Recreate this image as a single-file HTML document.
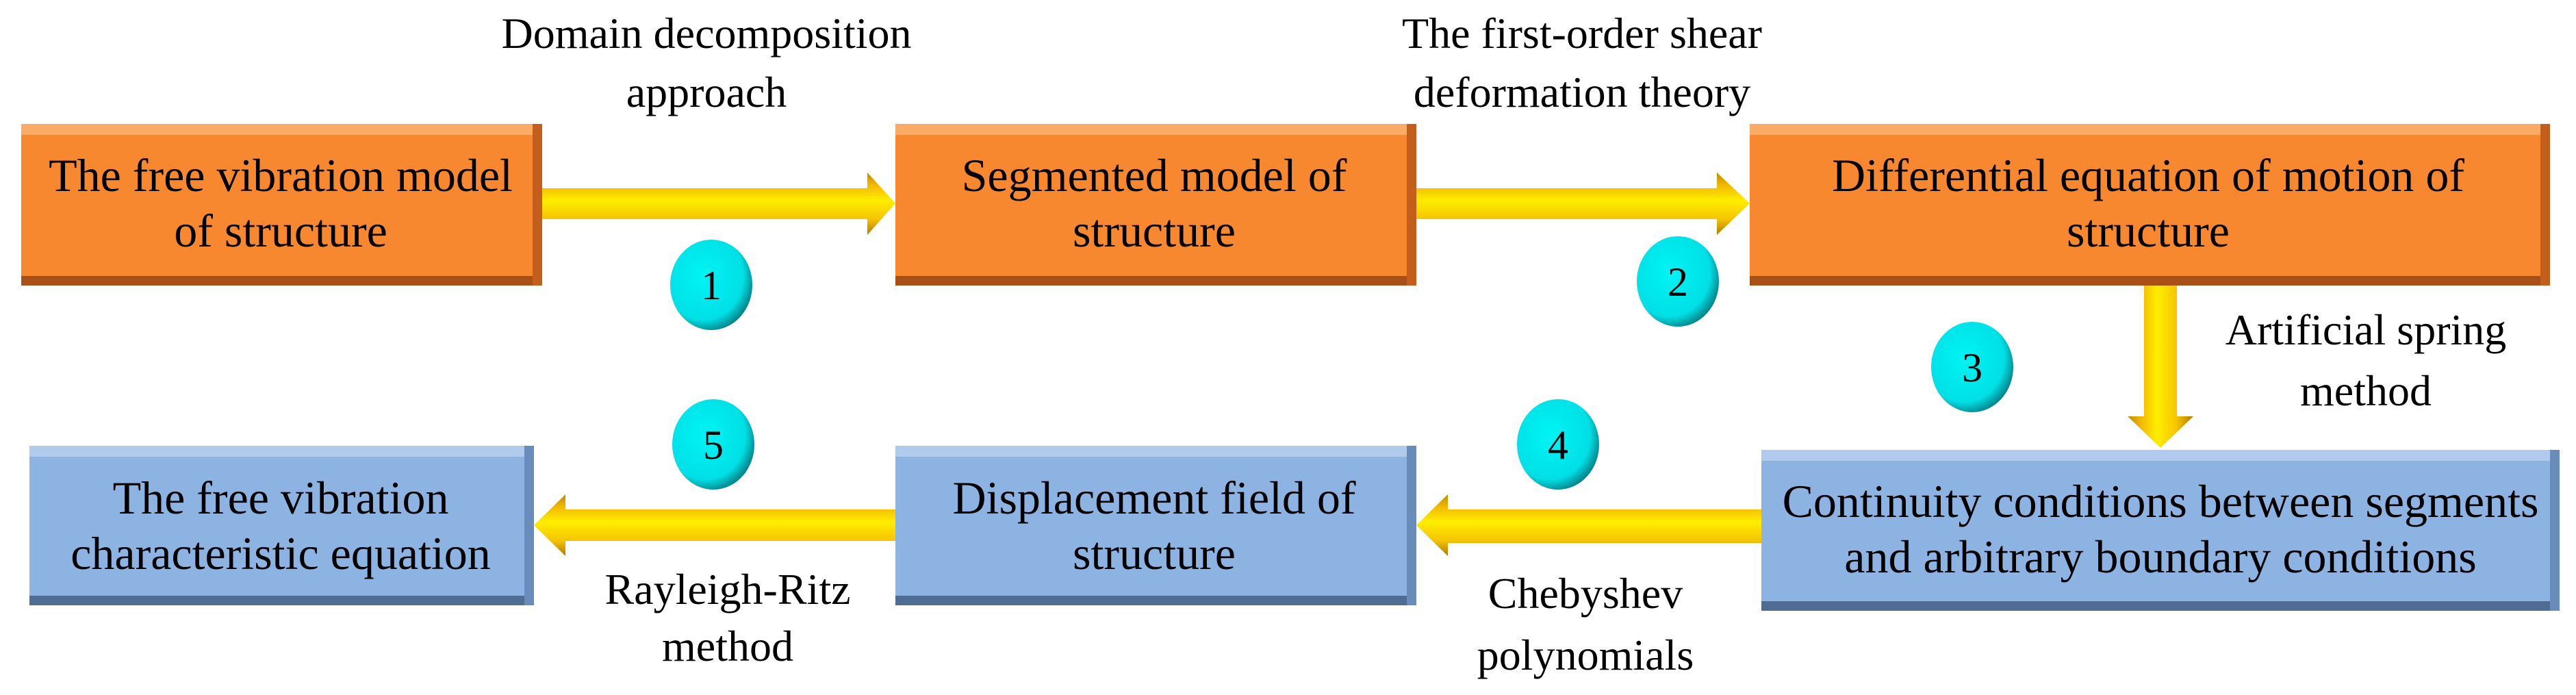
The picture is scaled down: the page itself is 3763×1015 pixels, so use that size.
<!DOCTYPE html>
<html><head><meta charset="utf-8"><style>
html,body{margin:0;padding:0;background:#fff;}
svg{display:block;}
svg text{font-family:"Liberation Serif","Times New Roman",serif !important;fill:#000;}
</style></head><body>
<svg width="3763" height="1015" viewBox="0 0 3763 1015" xmlns="http://www.w3.org/2000/svg" font-family="Liberation Serif, serif">
<defs>
<linearGradient id="gh" x1="0" y1="0" x2="0" y2="1">
<stop offset="0" stop-color="#c08a00"/><stop offset="0.2" stop-color="#f2b800"/><stop offset="0.45" stop-color="#ffee00"/><stop offset="0.75" stop-color="#f5c400"/><stop offset="1" stop-color="#b07800"/></linearGradient>
<linearGradient id="gv" x1="0" y1="0" x2="1" y2="0">
<stop offset="0" stop-color="#c08a00"/><stop offset="0.2" stop-color="#f2b800"/><stop offset="0.45" stop-color="#ffee00"/><stop offset="0.75" stop-color="#f5c400"/><stop offset="1" stop-color="#b07800"/></linearGradient>
<radialGradient id="gc" cx="0.4" cy="0.4" r="0.65">
<stop offset="0" stop-color="#00f4f4"/><stop offset="0.75" stop-color="#00e0e6"/><stop offset="1" stop-color="#007a80"/></radialGradient>
</defs>

<g>
<rect x="31" y="181" width="761" height="236" fill="#f8882f"/>
<rect x="31" y="181" width="761" height="16" fill="#fbab66"/>
<rect x="31" y="403" width="761" height="14" fill="#a85018"/>
<rect x="778" y="181" width="14" height="236" fill="#c45e1c"/>
<rect x="1308" y="181" width="761" height="236" fill="#f8882f"/>
<rect x="1308" y="181" width="761" height="16" fill="#fbab66"/>
<rect x="1308" y="403" width="761" height="14" fill="#a85018"/>
<rect x="2055" y="181" width="14" height="236" fill="#c45e1c"/>
<rect x="2556" y="181" width="1169" height="236" fill="#f8882f"/>
<rect x="2556" y="181" width="1169" height="16" fill="#fbab66"/>
<rect x="2556" y="403" width="1169" height="14" fill="#a85018"/>
<rect x="3711" y="181" width="14" height="236" fill="#c45e1c"/>
</g>
<g>
<rect x="43" y="651" width="737" height="233" fill="#8db3e2"/>
<rect x="43" y="651" width="737" height="16" fill="#b0cbee"/>
<rect x="43" y="870" width="737" height="14" fill="#4e6c94"/>
<rect x="766" y="651" width="14" height="233" fill="#6a8cba"/>
<rect x="1308" y="651" width="761" height="233" fill="#8db3e2"/>
<rect x="1308" y="651" width="761" height="16" fill="#b0cbee"/>
<rect x="1308" y="870" width="761" height="14" fill="#4e6c94"/>
<rect x="2055" y="651" width="14" height="233" fill="#6a8cba"/>
<rect x="2573" y="657" width="1166" height="235" fill="#8db3e2"/>
<rect x="2573" y="657" width="1166" height="16" fill="#b0cbee"/>
<rect x="2573" y="878" width="1166" height="14" fill="#4e6c94"/>
<rect x="3725" y="657" width="14" height="235" fill="#6a8cba"/>
</g>

<polygon points="792,275 1267,275 1267,252 1308,297 1267,343 1267,320 792,320" fill="url(#gh)"/>
<polygon points="2069,275 2508,275 2508,252 2556,297 2508,343 2508,320 2069,320" fill="url(#gh)"/>
<polygon points="3132,417 3180,417 3180,608 3204,608 3156,654 3108,608 3132,608" fill="url(#gv)"/>
<polygon points="2573,744 2115,744 2115,722 2069,767 2115,812 2115,793 2573,793" fill="url(#gh)"/>
<polygon points="1308,744 826,744 826,722 780,767 826,812 826,790 1308,790" fill="url(#gh)"/>

<g font-size="60" text-anchor="middle" font-family="Liberation Serif, serif">
<ellipse cx="1039" cy="416" rx="60" ry="66" fill="url(#gc)"/><text x="1039" y="437">1</text>
<ellipse cx="2451" cy="411" rx="60" ry="66" fill="url(#gc)"/><text x="2451" y="432">2</text>
<ellipse cx="2881" cy="536" rx="60" ry="66" fill="url(#gc)"/><text x="2881" y="557">3</text>
<ellipse cx="2276" cy="649" rx="60" ry="66" fill="url(#gc)"/><text x="2276" y="670">4</text>
<ellipse cx="1042" cy="649" rx="60" ry="66" fill="url(#gc)"/><text x="1042" y="670">5</text>
</g>

<g font-size="68" text-anchor="middle" font-family="Liberation Serif, serif">
<text x="410" y="279">The free vibration model</text>
<text x="410" y="360">of structure</text>
<text x="1686" y="279">Segmented model of</text>
<text x="1686" y="360">structure</text>
<text x="3138" y="279">Differential equation of motion of</text>
<text x="3138" y="360">structure</text>
<text x="410" y="750">The free vibration</text>
<text x="410" y="831">characteristic equation</text>
<text x="1686" y="750">Displacement field of</text>
<text x="1686" y="831">structure</text>
<text x="3156" y="755">Continuity conditions between segments</text>
<text x="3156" y="836">and arbitrary boundary conditions</text>
</g>

<g font-size="64" text-anchor="middle" font-family="Liberation Serif, serif">
<text x="1032" y="70">Domain decomposition</text>
<text x="1032" y="156">approach</text>
<text x="2311" y="70">The first-order shear</text>
<text x="2311" y="156">deformation theory</text>
<text x="3456" y="503">Artificial spring</text>
<text x="3456" y="592">method</text>
<text x="1063" y="882">Rayleigh-Ritz</text>
<text x="1063" y="965">method</text>
<text x="2316" y="888">Chebyshev</text>
<text x="2316" y="978">polynomials</text>
</g>
</svg>
</body></html>
